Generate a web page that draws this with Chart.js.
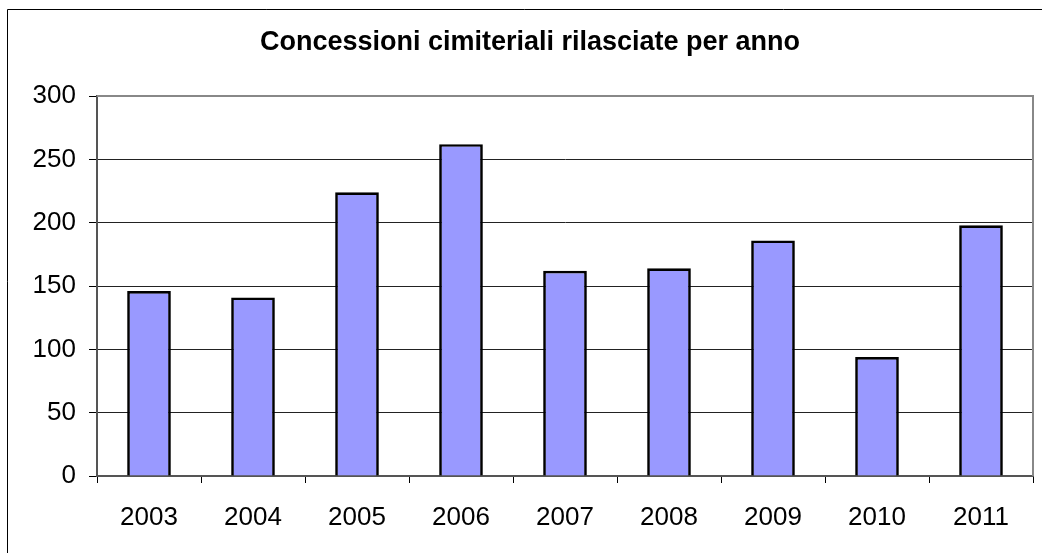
<!DOCTYPE html>
<html>
<head>
<meta charset="utf-8">
<script src="https://cdn.jsdelivr.net/npm/chart.js@4/dist/chart.umd.min.js"></script>
<style>
  html, body { margin: 0; padding: 0; background: #fff; }
  #wrap { width: 1042px; height: 553px; }
</style>
</head>
<body>
<div id="wrap"><canvas id="grafico" width="1042" height="553"></canvas></div>
<script>
const titolo = 'Concessioni cimiteriali rilasciate per anno';
const anni = ['2003', '2004', '2005', '2006', '2007', '2008', '2009', '2010', '2011'];
const concessioni = [146, 141, 224, 262, 162, 164, 186, 94, 198];
const yMin = 0;
const yMax = 300;
const yStep = 50;

const fontName = "'Liberation Sans', Arial, sans-serif";

// cornice esterna (tagliata a destra e in basso) e bordo grigio dell'area del grafico
const cornice = {
    id: 'cornice',
    afterDraw(chart) {
        const ctx = chart.ctx;
        const a = chart.chartArea;
        ctx.save();
        ctx.strokeStyle = '#000';
        ctx.lineWidth = 1;
        ctx.beginPath();
        ctx.moveTo(7.5, 553);
        ctx.lineTo(7.5, 9.5);
        ctx.lineTo(1042, 9.5);
        ctx.stroke();
        ctx.strokeStyle = '#888';
        ctx.lineWidth = 2;
        ctx.beginPath();
        ctx.moveTo(a.left, a.top);
        ctx.lineTo(a.right, a.top);
        ctx.lineTo(a.right, a.bottom);
        ctx.stroke();
        ctx.restore();
    }
};

new Chart(document.getElementById('grafico'), {
    type: 'bar',
    data: {
        labels: anni,
        datasets: [{
            label: titolo,
            data: concessioni,
            backgroundColor: '#9999FF',
            borderColor: '#000',
            borderWidth: 2.7,
            categoryPercentage: 1,
            barPercentage: 0.42
        }]
    },
    options: {
        responsive: false,
        animation: false,
        layout: { padding: { left: 27, right: 9, top: 0, bottom: 0 } },
        plugins: {
            legend: { display: false },
            tooltip: { enabled: false },
            title: {
                display: true,
                text: titolo,
                color: '#000',
                font: { family: fontName, size: 27, weight: 'bold', lineHeight: 1.2 },
                padding: { top: 26, bottom: 37.6 }
            }
        },
        scales: {
            x: {
                afterFit: (s) => { s.height = 77; },
                grid: {
                    offset: true,
                    drawOnChartArea: false,
                    drawTicks: true,
                    tickLength: 7,
                    color: '#000'
                },
                border: { display: true, color: '#555', width: 2 },
                ticks: {
                    color: '#000',
                    padding: 19,
                    font: { family: fontName, size: 26 }
                }
            },
            y: {
                min: yMin,
                max: yMax,
                afterFit: (s) => { s.width = 70; },
                grid: {
                    color: '#222',
                    lineWidth: 1,
                    drawTicks: true,
                    tickLength: 8,
                    tickColor: '#000'
                },
                border: { display: true, color: '#555', width: 2 },
                ticks: {
                    stepSize: yStep,
                    color: '#000',
                    padding: 13,
                    font: { family: fontName, size: 26 }
                }
            }
        }
    },
    plugins: [cornice]
});
</script>
</body>
</html>
